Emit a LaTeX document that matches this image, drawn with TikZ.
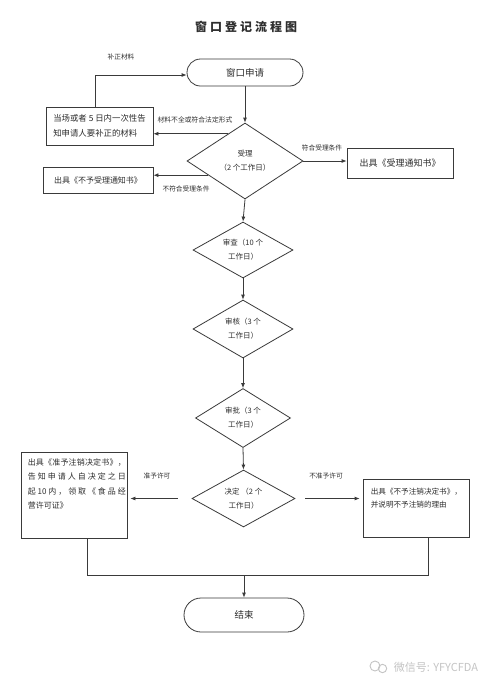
\documentclass[tikz,border=0pt]{standalone}
\usepackage{fontspec}
\newfontfamily\cjk{Noto Sans CJK SC}
\usetikzlibrary{arrows.meta,shapes.geometric,calc}
\definecolor{ln}{HTML}{3A3A3A}
\definecolor{txt}{HTML}{2E2E2E}
\definecolor{wm}{HTML}{C4C4C4}
\def\spreadtok#1{\ifx\relax#1\else#1\expandafter\spreadnext\fi}
\def\spreadnext#1{\ifx\relax#1\else\hfil#1\expandafter\spreadnext\fi}
\newcommand\spreadto[2]{\makebox[#1][s]{\spreadtok#2\relax}}
\tikzset{
  base/.style={text=txt, inner sep=0pt},
  box/.style={base, draw=ln, line width=0.8pt, rectangle},
  term/.style={box, font=\cjk\fontsize{9.5}{11}\selectfont},
  dia/.style={base, draw=ln, line width=0.8pt, diamond, align=center, font=\cjk\fontsize{7.5}{14}\selectfont},
  lbl/.style={base, font=\cjk\fontsize{6.7}{8}\selectfont},
  arr/.style={draw=ln, line width=0.8pt, -{Latex[length=5pt,width=4pt]}},
  ln/.style={draw=ln, line width=0.8pt},
}
\begin{document}
\begin{tikzpicture}[x=1pt,y=-1pt]
\path[use as bounding box, fill=white] (0,0) rectangle (500,689);

% title
\node[base, font=\cjk\bfseries\fontsize{12}{12}\selectfont] (title) at (246,27) {\spreadto{102pt}{窗口登记流程图}};

% start terminal
\node[term, minimum width=116pt, minimum height=27pt, rounded corners=13.5pt] (start) at (245,72.5) {窗口申请};

% box 1
\node[box, minimum width=107pt, minimum height=38pt, align=left, font=\cjk\fontsize{8.4}{15}\selectfont] (b1) at (99.5,126) {当场或者 5 日内一次性告\\知申请人要补正的材料};

% diamond 受理
\node[dia, minimum width=116pt, minimum height=76pt, aspect=1.53] (sl) at (245,161) {受理\\（2 个工作日）};

% right box
\node[box, minimum width=106pt, minimum height=30pt, font=\cjk\fontsize{9}{11}\selectfont] (r1) at (400,163) {出具《受理通知书》};

% box 2
\node[box, minimum width=110pt, minimum height=26pt, font=\cjk\fontsize{8}{10}\selectfont] (b2) at (98,180) {出具《不予受理通知书》};

% review diamonds
\node[dia, minimum width=100pt, minimum height=56pt, aspect=1.8] (sc) at (243,250) {审查（10 个\\工作日）};
\node[dia, minimum width=100pt, minimum height=58pt, aspect=1.72] (sh) at (243,329) {审核（3 个\\工作日）};
\node[dia, minimum width=95pt, minimum height=59pt, aspect=1.6] (sp) at (243,418) {审批（3 个\\工作日）};
\node[dia, minimum width=103pt, minimum height=57pt, aspect=1.8] (jd) at (243.5,498.5) {决定 （2 个\\工作日）};

% decision boxes
\node[box, minimum width=106pt, minimum height=86pt] (lb) at (74,495) {};
\node[base, anchor=north west, align=left, font=\cjk\fontsize{8}{14.3}\selectfont] (lbt) at ($(lb.north west)+(7,7)$)
  {\spreadto{98pt}{出具《准予注销决定书》，}\\\spreadto{98pt}{告知申请人自决定之日}\\\spreadto{98pt}{起{10}内，领取《食品经}\\营许可证》};
\node[box, minimum width=106pt, minimum height=58pt] (rb) at (416,508) {};
\node[base, anchor=north west, align=left, font=\cjk\fontsize{7.6}{13}\selectfont] (rbt) at ($(rb.north west)+(8,9)$)
  {出具《不予注销决定书》，\\并说明不予注销的理由};

% end terminal
\node[term, minimum width=120pt, minimum height=34pt, rounded corners=17pt] (endn) at (244,615) {结束};

% labels
\node[lbl] (l1) at (121,57) {补正材料};
\node[lbl, font=\cjk\fontsize{6.8}{8}\selectfont] (l2) at (195,120) {材料不全或符合法定形式};
\node[lbl] (l3) at (322,148) {符合受理条件};
\node[lbl] (l4) at (186,189) {不符合受理条件};
\node[lbl] (l5) at (157,476) {准予许可};
\node[lbl] (l6) at (326,476) {不准予许可};

% connectors
\coordinate (lp) at (95.5,75);
\draw[arr] (b1.north -| lp) -- (lp) -- (lp -| start.west);
\draw[arr] (start.south) -- (sl.north);
\coordinate (p1) at ($(sl.north)!0.29!(sl.west)$);
\draw[arr] (p1) -- (p1 -| b1.east);
\draw[arr] (sl.east) -- (sl.east -| r1.west);
\coordinate (p2) at ($(sl.south)!0.63!(sl.west)$);
\draw[arr] (p2) -- (p2 -| b2.east);
\draw[arr] (sl.south) -- (sc.north);
\draw[arr] (sc.south) -- (sh.north);
\draw[arr] (sh.south) -- (sp.north);
\draw[arr] (sp.south) -- (jd.north);
\draw[arr, shorten <=14pt, shorten >=3pt] (jd.west) -- (jd.west -| lb.east);
\draw[arr, shorten <=10pt, shorten >=3pt] (jd.east) -- (jd.east -| rb.west);
\coordinate (jl) at (87,575);
\coordinate (jr) at (428,575);
\draw[ln] (lb.south -| jl) -- (jl) -- (jr) -- (rb.south -| jr);
\draw[arr] (jl -| endn.north) -- (endn.north);

% watermark
\draw[wm, line width=0.9pt] (375,666) circle (5);
\draw[wm, line width=0.9pt] (382.5,668.5) circle (4.2);
\node[base, text=wm, font=\cjk\fontsize{11}{12}\selectfont] (wmk) at (436,667) {微信号: YFYCFDA};
\end{tikzpicture}
\end{document}
